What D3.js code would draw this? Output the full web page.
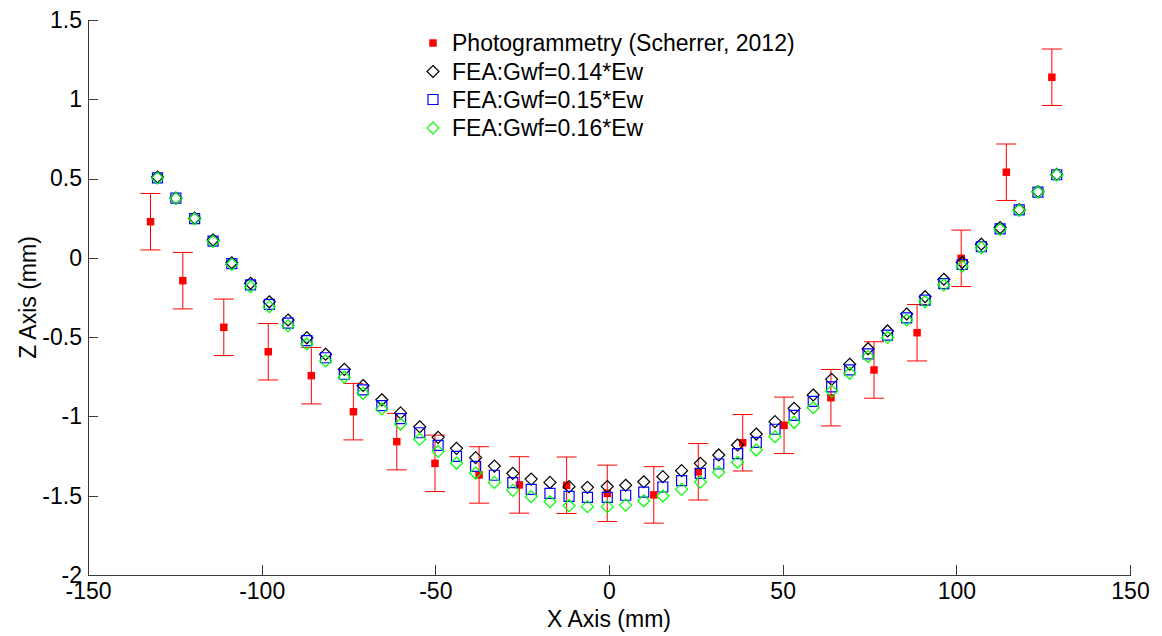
<!DOCTYPE html>
<html>
<head>
<meta charset="utf-8">
<script src="https://cdn.jsdelivr.net/npm/d3@7"></script>
<style>
  html, body { margin: 0; padding: 0; background: #fff; }
  svg { display: block; font-family: "Liberation Sans", Arial, sans-serif; }
</style>
</head>
<body>
<svg id="chart" width="1162" height="636"></svg>
<script>
// ---- Data ----
const photoX = [-132.0, -122.7, -110.9, -98.1, -85.7, -73.6, -61.1, -50.1, -37.4, -25.8, -12.2, -0.5,
                12.9, 25.7, 38.5, 50.4, 63.9, 76.3, 88.7, 101.4, 114.4, 127.5];
const photoZ = [0.228, -0.144, -0.438, -0.592, -0.743, -0.970, -1.159, -1.296, -1.369, -1.432, -1.434, -1.485,
                -1.495, -1.349, -1.166, -1.056, -0.882, -0.707, -0.472, -0.003, 0.540, 1.139];
const photoErr = [0.178, 0.178, 0.178, 0.178, 0.178, 0.178, 0.178, 0.178, 0.178, 0.178, 0.178, 0.178,
                  0.178, 0.178, 0.178, 0.178, 0.178, 0.178, 0.178, 0.178, 0.178, 0.178];

const feaX = [-130.0, -124.7, -119.3, -114.0, -108.6, -103.2, -97.8, -92.4, -87.0, -81.6, -76.2, -70.8,
              -65.4, -60.0, -54.5, -49.2, -43.9, -38.4, -33.0, -27.7, -22.4, -17.0, -11.5, -6.2,
              -0.5, 4.8, 10.0, 15.5, 20.9, 26.3, 31.6, 37.0, 42.4, 47.8, 53.3, 58.8,
              64.1, 69.3, 74.6, 80.2, 85.7, 91.0, 96.4, 101.7, 107.2, 112.6, 118.1, 123.5, 128.9];
const fea014 = [0.510, 0.377, 0.250, 0.113, -0.031, -0.160, -0.277, -0.392, -0.504, -0.608, -0.703, -0.805,
                -0.895, -0.978, -1.065, -1.132, -1.201, -1.260, -1.313, -1.359, -1.395, -1.416, -1.443, -1.447,
                -1.442, -1.434, -1.412, -1.380, -1.342, -1.296, -1.243, -1.180, -1.111, -1.033, -0.949, -0.865,
                -0.766, -0.671, -0.573, -0.461, -0.354, -0.245, -0.135, -0.028, 0.086, 0.191, 0.304, 0.417, 0.526];
const fea015 = [0.505, 0.377, 0.248, 0.106, -0.037, -0.171, -0.293, -0.411, -0.522, -0.630, -0.734, -0.833,
                -0.932, -1.014, -1.103, -1.182, -1.252, -1.315, -1.371, -1.418, -1.460, -1.485, -1.504, -1.510,
                -1.510, -1.497, -1.477, -1.445, -1.405, -1.359, -1.300, -1.235, -1.163, -1.081, -0.993, -0.905,
                -0.813, -0.707, -0.606, -0.487, -0.379, -0.266, -0.162, -0.042, 0.070, 0.183, 0.302, 0.415, 0.524];
const fea016 = [0.503, 0.375, 0.246, 0.104, -0.041, -0.182, -0.308, -0.428, -0.543, -0.650, -0.753, -0.855,
                -0.953, -1.048, -1.144, -1.220, -1.294, -1.357, -1.416, -1.466, -1.506, -1.538, -1.563, -1.569,
                -1.569, -1.559, -1.532, -1.502, -1.460, -1.414, -1.352, -1.289, -1.212, -1.128, -1.037, -0.945,
                -0.840, -0.728, -0.623, -0.502, -0.392, -0.277, -0.171, -0.053, 0.063, 0.180, 0.300, 0.415, 0.523];

const xTicks = [-150, -100, -50, 0, 50, 100, 150];
const yTicks = [-2, -1.5, -1, -0.5, 0, 0.5, 1, 1.5];
const legendLabels = ["Photogrammetry (Scherrer, 2012)", "FEA:Gwf=0.14*Ew", "FEA:Gwf=0.15*Ew", "FEA:Gwf=0.16*Ew"];
const xLabel = "X Axis (mm)";
const yLabel = "Z Axis (mm)";

// ---- Layout ----
const svg = d3.select("#chart");
const L = 88, R = 1130, T = 20, B = 575;
const x = d3.scaleLinear().domain([-150, 150]).range([L, R]);
const y = d3.scaleLinear().domain([-2, 1.5]).range([B, T]);
const FS = 23;

// custom diamond symbol (square rotated 45°)
const diamond = {
  draw(ctx, size) {
    const r = Math.sqrt(size) / 2;
    ctx.moveTo(0, -r); ctx.lineTo(r, 0); ctx.lineTo(0, r); ctx.lineTo(-r, 0); ctx.closePath();
  }
};
const diamondPath = d3.symbol().type(diamond).size(144)();
const squarePath = d3.symbol().type(d3.symbolSquare).size(100)();
const redSquarePath = d3.symbol().type(d3.symbolSquare).size(56)();

// ---- Axes ----
const fmt = d => String(d);
const xAxis = d3.axisBottom(x).tickValues(xTicks).tickFormat(fmt).tickSizeInner(-10).tickSizeOuter(0).tickPadding(8);
const yAxis = d3.axisLeft(y).tickValues(yTicks).tickFormat(fmt).tickSizeInner(-10).tickSizeOuter(0).tickPadding(6);

const gx = svg.append("g").attr("transform", `translate(0,${B})`).call(xAxis);
const gy = svg.append("g").attr("transform", `translate(${L},0)`).call(yAxis);
[gx, gy].forEach(g => {
  g.selectAll("path, line").attr("stroke", "#3a3a3a").attr("stroke-width", 1).attr("shape-rendering", "crispEdges");
  g.selectAll("text").attr("fill", "#000").style("font-size", FS + "px")
    .style("font-family", '"Liberation Sans", Arial, sans-serif');
});
gx.selectAll("text").attr("dy", "0.71em");

svg.append("text").attr("x", (L + R) / 2).attr("y", 627).attr("text-anchor", "middle")
  .style("font-size", FS + "px").text(xLabel);
svg.append("text").attr("transform", `translate(36,${(T + B) / 2}) rotate(-90)`).attr("text-anchor", "middle")
  .style("font-size", FS + "px").text(yLabel);

// ---- Photogrammetry with error bars ----
const photo = photoX.map((d, i) => ({ x: d, z: photoZ[i], e: photoErr[i] }));
const eb = svg.append("g").attr("stroke", "#ff0000").attr("stroke-width", 1).attr("fill", "none");
photo.forEach(p => {
  const cx = x(p.x), y1 = y(p.z + p.e), y2 = y(p.z - p.e);
  eb.append("line").attr("x1", cx).attr("x2", cx).attr("y1", y1).attr("y2", y2);
  eb.append("line").attr("x1", cx - 10).attr("x2", cx + 10).attr("y1", y1).attr("y2", y1);
  eb.append("line").attr("x1", cx - 10).attr("x2", cx + 10).attr("y1", y2).attr("y2", y2);
});
svg.append("g").selectAll("path").data(photo).join("path")
  .attr("d", redSquarePath).attr("fill", "#ff0000")
  .attr("transform", d => `translate(${x(d.x)},${y(d.z)})`);

// ---- FEA series ----
const series = [
  { vals: fea014, path: diamondPath, color: "#000000" },
  { vals: fea015, path: squarePath, color: "#0000ff" },
  { vals: fea016, path: diamondPath, color: "#00ff00" }
];
series.forEach(s => {
  svg.append("g").selectAll("path").data(feaX.map((d, i) => ({ x: d, z: s.vals[i] }))).join("path")
    .attr("d", s.path).attr("fill", "none").attr("stroke", s.color).attr("stroke-width", 1.2)
    .attr("transform", d => `translate(${x(d.x)},${y(d.z)})`);
});

// ---- Legend ----
const lg = svg.append("g");
const rowY = [43, 71.5, 99.5, 128];
const mx = 433, tx = 452;
lg.append("path").attr("d", redSquarePath).attr("fill", "#ff0000").attr("transform", `translate(${mx},${rowY[0]})`);
series.forEach((s, i) => {
  lg.append("path").attr("d", s.path).attr("fill", "none").attr("stroke", s.color).attr("stroke-width", 1.2)
    .attr("transform", `translate(${mx},${rowY[i + 1]})`);
});
legendLabels.forEach((t, i) => {
  lg.append("text").attr("x", tx).attr("y", rowY[i]).attr("dy", "0.35em")
    .style("font-size", FS + "px").text(t);
});
</script>
</body>
</html>
